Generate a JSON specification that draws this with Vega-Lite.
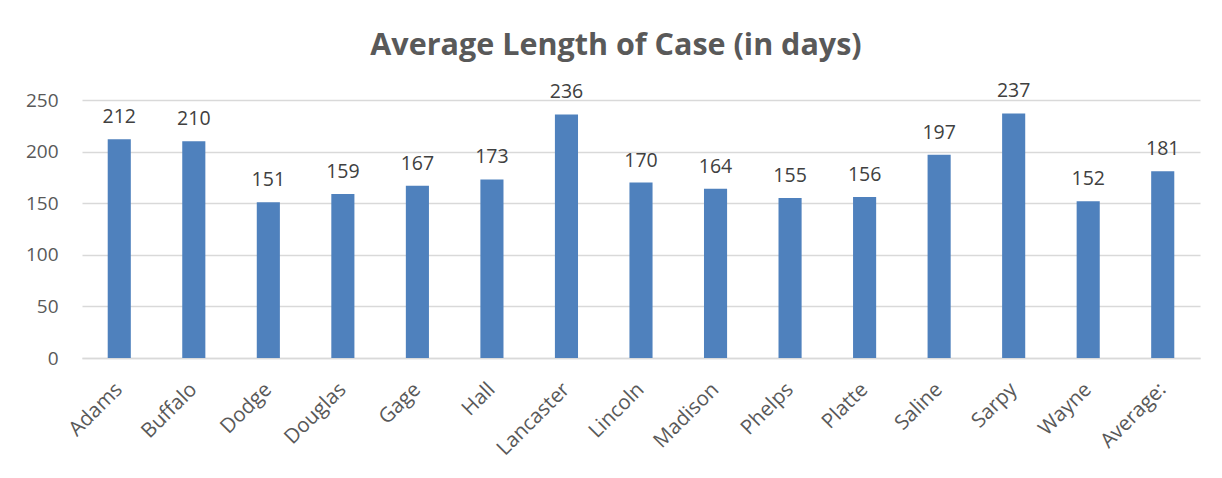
{
  "$schema": "https://vega.github.io/schema/vega-lite/v6.json",
  "width": 1118,
  "height": 258,
  "autosize": "none",
  "padding": {"left": 82, "top": 100, "right": 22, "bottom": 120},
  "background": "white",
  "title": {
    "text": "Average Length of Case (in days)",
    "fontSize": 30.5,
    "fontWeight": "bold",
    "font": "Open Sans",
    "color": "#595959",
    "anchor": "middle",
    "offset": 20,
    "dx": -25
  },
  "data": {
    "values": [
      {"county": "Adams", "days": 212},
      {"county": "Buffalo", "days": 210},
      {"county": "Dodge", "days": 151},
      {"county": "Douglas", "days": 159},
      {"county": "Gage", "days": 167},
      {"county": "Hall", "days": 173},
      {"county": "Lancaster", "days": 236},
      {"county": "Lincoln", "days": 170},
      {"county": "Madison", "days": 164},
      {"county": "Phelps", "days": 155},
      {"county": "Platte", "days": 156},
      {"county": "Saline", "days": 197},
      {"county": "Sarpy", "days": 237},
      {"county": "Wayne", "days": 152},
      {"county": "Average:", "days": 181}
    ]
  },
  "encoding": {
    "x": {
      "field": "county",
      "type": "nominal",
      "sort": null,
      "title": null,
      "scale": {"paddingInner": 0.69, "paddingOuter": 0.345},
      "axis": {
        "labelAngle": -45,
        "labelAlign": "right",
        "labelBaseline": "middle",
        "labelFontSize": 20.5,
        "labelFont": "Open Sans",
        "labelColor": "#595959",
        "labelPadding": 28,
        "ticks": false,
        "domainColor": "#D9D9D9",
        "domainWidth": 1.5
      }
    },
    "y": {
      "field": "days",
      "type": "quantitative",
      "title": null,
      "scale": {"domain": [0, 250], "nice": false},
      "axis": {
        "values": [0, 50, 100, 150, 200, 250],
        "labelFontSize": 19,
        "labelFont": "Open Sans",
        "labelColor": "#595959",
        "labelPadding": 24,
        "ticks": false,
        "domain": false,
        "gridColor": "#D9D9D9",
        "gridWidth": 1.5
      }
    }
  },
  "layer": [
    {"mark": {"type": "bar", "color": "#4F81BD"}},
    {
      "mark": {
        "type": "text",
        "baseline": "alphabetic",
        "dy": -16,
        "fontSize": 19.5,
        "font": "Open Sans",
        "color": "#404040"
      },
      "encoding": {"text": {"field": "days", "type": "quantitative"}}
    }
  ],
  "config": {"view": {"stroke": null}}
}
